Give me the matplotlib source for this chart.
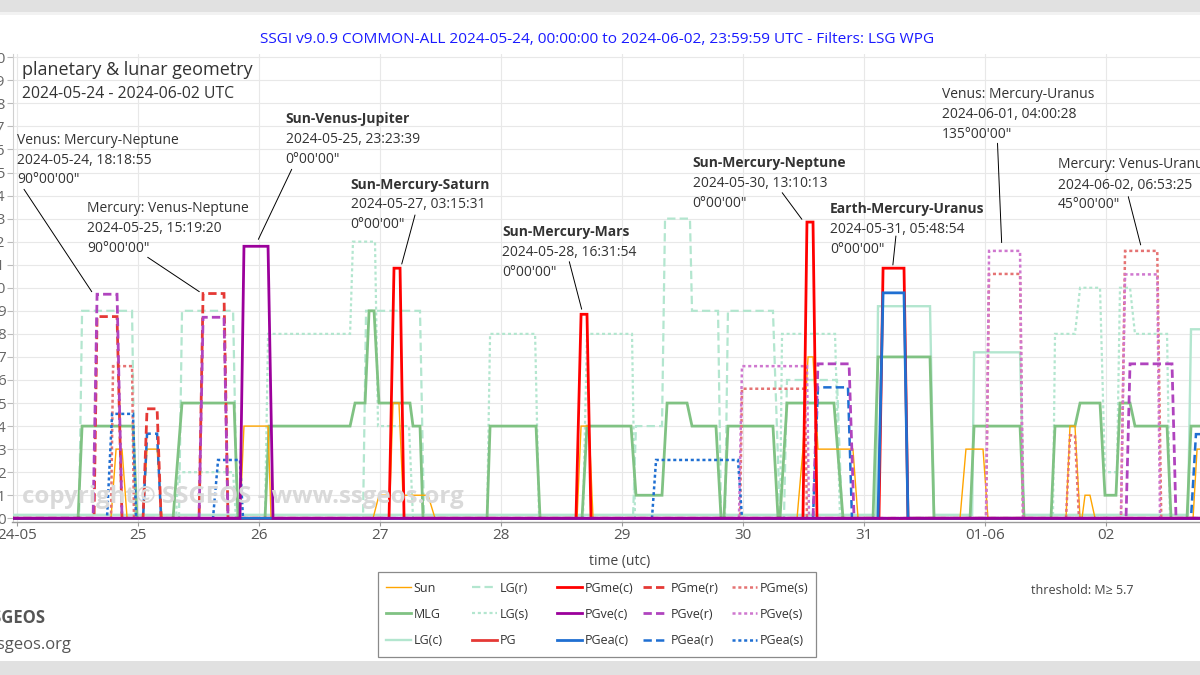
import matplotlib
matplotlib.use("Agg")
import matplotlib.pyplot as plt
from matplotlib.patches import Rectangle

plt.rcParams['font.family'] = ['Open Sans', 'Noto Sans', 'DejaVu Sans']
plt.rcParams['lines.scale_dashes'] = False

W, H = 1200, 675

# ---------------- data (time in days since 2024-05-24 00:00 UTC) ----------------
DAY_TICKS = [0, 1, 2, 3, 4, 5, 6, 7, 8, 9, 10]
DAY_LABELS = ["24-05", "25", "26", "27", "28", "29", "30", "31", "01-06", "02", "03"]
Y_TICKS = list(range(0, 21))

SUN_T = [-0.05, 0.779, 0.821, 0.870, 0.912, 1.044, 1.077, 1.160, 1.201, 1.845, 1.878, 2.077, 2.102,
         2.945, 2.994, 3.085, 3.110, 3.159, 3.192, 3.399, 3.457, 4.631, 4.664, 4.730, 4.763,
         6.449, 6.498, 6.540, 6.581, 6.622, 6.911, 6.953, 7.796, 7.845, 7.986, 8.027,
         8.672, 8.705, 8.746, 8.788, 8.804, 8.829, 8.870, 8.912, 9.722, 9.755, 10.1]
SUN_V = [0, 0, 3, 3, 0, 0, 3, 3, 0, 0, 4, 4, 0,
         0, 1, 1, 5, 5, 1, 1, 0, 0, 4, 4, 0,
         0, 3, 7, 7, 3, 3, 0, 0, 3, 3, 0,
         0, 4, 4, 0, 0, 1, 1, 0, 0, 3, 3]

MLG_T = [-0.05, 0.507, 0.540, 0.961, 0.994, 1.292, 1.366, 1.796, 1.829,
         2.052, 2.085, 2.755, 2.796, 2.879, 2.912, 2.953, 2.994, 3.250, 3.275, 3.333, 3.358,
         3.887, 3.912, 4.292, 4.325, 4.672, 4.713, 5.077, 5.118, 5.333, 5.375, 5.540, 5.581,
         5.779, 5.821, 5.845, 5.878, 6.250, 6.292, 6.308, 6.366, 6.754, 6.829,
         7.077, 7.118, 7.548, 7.581, 7.879, 7.912, 8.292, 8.325,
         8.548, 8.581, 8.746, 8.788, 8.953, 8.994, 9.085, 9.118, 9.201, 9.242, 9.507, 9.540,
         9.672, 9.705, 10.1]
MLG_V = [0, 0, 4, 4, 0, 0, 5, 5, 0,
         0, 4, 4, 5, 5, 9, 9, 5, 5, 4, 4, 0,
         0, 4, 4, 0, 0, 4, 4, 1, 1, 5, 5, 4,
         4, 0, 0, 4, 4, 0, 0, 5, 5, 0,
         0, 7, 7, 0, 0, 4, 4, 0,
         0, 4, 4, 5, 5, 1, 1, 5, 5, 4, 4, 0,
         0, 4, 4]

LGC_T = [-0.05, 7.102, 7.118, 7.548, 7.581, 7.896, 7.912, 8.292, 8.325, 9.680, 9.705, 10.1]
LGC_V = [0.15, 0.15, 9.2, 9.2, 0.15, 0.15, 7.2, 7.2, 0.15, 0.15, 8.2, 8.2]

LGR_T = [-0.05, 0.515, 0.540, 0.953, 0.978, 1.341, 1.366, 1.788, 1.821,
         2.862, 2.887, 3.333, 3.366,
         5.093, 5.118, 5.333, 5.358, 5.564, 5.581, 5.796, 5.821, 5.854, 5.878, 6.250, 6.308,
         6.341, 6.366, 6.779, 6.821, 10.1]
LGR_V = [0, 0, 9, 9, 0, 0, 9, 9, 0,
         0, 9, 9, 0,
         0, 4, 4, 13, 13, 9, 9, 0, 0, 9, 9, 0,
         0, 6, 6, 0, 0]

LGS_T = [-0.05, 1.317, 1.333, 1.788, 1.812,
         2.052, 2.077, 2.755, 2.779, 2.961, 2.986, 3.242, 3.275,
         3.887, 3.912, 4.284, 4.317, 4.680, 4.713, 5.085, 5.110,
         6.308, 6.325, 6.763, 6.804,
         8.564, 8.581, 8.746, 8.788, 8.953, 8.994, 9.093, 9.118, 9.201, 9.242, 9.507, 9.531, 10.1]
LGS_V = [0, 0, 2, 2, 0,
         0, 8, 8, 12, 12, 4, 4, 0,
         0, 8, 8, 0, 0, 8, 8, 0,
         0, 8, 8, 0,
         0, 8, 8, 10, 10, 2, 2, 10, 10, 8, 8, 0, 0]

PG_T = [-0.05, 10.1]
PG_V = [0, 0]

PGMEC_T = [-0.05, 3.077, 3.118, 3.168, 3.201, 4.622, 4.664, 4.713, 4.746,
           6.498, 6.531, 6.581, 6.614, 7.126, 7.160, 7.333, 7.366, 10.1]
PGMEC_V = [0, 0, 10.85, 10.85, 0, 0, 8.85, 8.85, 0,
           0, 12.85, 12.85, 0, 0, 10.85, 10.85, 0, 0]

PGMER_T = [-0.05, 0.639, 0.664, 0.829, 0.870, 1.044, 1.077, 1.160, 1.193,
           1.507, 1.540, 1.713, 1.746, 10.1]
PGMER_V = [0, 0, 8.75, 8.75, 0, 0, 4.75, 4.75, 0,
           0, 9.75, 9.75, 0, 0]

PGMES_T = [-0.05, 0.779, 0.796, 0.953, 0.969, 5.978, 5.994, 6.515, 6.531,
           8.011, 8.036, 8.292, 8.317, 8.672, 8.705, 8.746, 8.779,
           9.126, 9.160, 9.426, 9.459, 10.1]
PGMES_V = [0, 0, 6.6, 6.6, 0, 0, 5.62, 5.62, 0,
           0, 10.6, 10.6, 0, 0, 3.6, 3.6, 0,
           0, 11.6, 11.6, 0, 0]

PGVEC_T = [-0.05, 1.845, 1.878, 2.077, 2.118, 10.1]
PGVEC_V = [0, 0, 11.8, 11.8, 0, 0]

PGVER_T = [-0.05, 0.631, 0.664, 0.829, 0.870, 1.507, 1.540, 1.713, 1.746,
           6.581, 6.622, 6.879, 6.920, 9.168, 9.201, 9.548, 9.581, 10.1]
PGVER_V = [0, 0, 9.72, 9.72, 0, 0, 8.72, 8.72, 0,
           0, 6.7, 6.7, 0, 0, 6.7, 6.7, 0, 0]

PGVES_T = [-0.05, 5.969, 5.994, 6.531, 6.548, 8.011, 8.036, 8.292, 8.317,
           9.126, 9.160, 9.426, 9.449, 10.1]
PGVES_V = [0, 0, 6.6, 6.6, 0, 0, 11.6, 11.6, 0,
           0, 10.58, 10.58, 0, 0]

PGEAC_T = [-0.05, 7.118, 7.160, 7.333, 7.366, 10.1]
PGEAC_V = [0, 0, 9.78, 9.78, 0, 0]

PGEAR_T = [-0.05, 1.044, 1.077, 1.160, 1.193, 6.581, 6.622, 6.870, 6.903, 9.705, 9.746, 10.1]
PGEAR_V = [0, 0, 3.67, 3.67, 0, 0, 5.68, 5.68, 0, 0, 3.65, 3.65]

PGEAS_T = [-0.05, 0.746, 0.788, 0.961, 0.986, 1.622, 1.664, 1.845, 1.870,
           5.250, 5.284, 5.961, 5.994, 10.1]
PGEAS_V = [0, 0, 4.53, 4.53, 0, 0, 2.53, 2.53, 0,
           0, 2.53, 2.53, 0, 0]

# annotation texts
ANN_TITLES = ["Venus: Mercury-Neptune", "Mercury: Venus-Neptune", "Sun-Venus-Jupiter",
              "Sun-Mercury-Saturn", "Sun-Mercury-Mars", "Sun-Mercury-Neptune",
              "Earth-Mercury-Uranus", "Venus: Mercury-Uranus", "Mercury: Venus-Uranus"]
ANN_TIMES = ["2024-05-24, 18:18:55", "2024-05-25, 15:19:20", "2024-05-25, 23:23:39",
             "2024-05-27, 03:15:31", "2024-05-28, 16:31:54", "2024-05-30, 13:10:13",
             "2024-05-31, 05:48:54", "2024-06-01, 04:00:28", "2024-06-02, 06:53:25"]
ANN_ANGLES = ["90°00'00\"", "90°00'00\"", "0°00'00\"", "0°00'00\"", "0°00'00\"",
              "0°00'00\"", "0°00'00\"", "135°00'00\"", "45°00'00\""]
ANN_BOLD = [False, False, True, True, True, True, True, False, False]
# tip of connector in data units (day, value)
ANN_TIP_D = [0.620, 1.509, 1.997, 3.182, 4.669, 6.489, 7.241, 8.140, 9.289]
ANN_TIP_V = [9.83, 9.83, 12.10, 11.03, 9.07, 12.97, 10.99, 11.96, 11.86]

# ---------------- layout helpers ----------------
def fx(x):
    return x / W

def fy(y):
    return 1 - y / H

fig = plt.figure(figsize=(12, 6.75), dpi=100)
fig.patch.set_facecolor('white')

# page bands
fig.patches.append(Rectangle((0, fy(12)), 1, 12 / H, transform=fig.transFigure,
                             facecolor='#e1e1e1', edgecolor='none', zorder=0))
fig.patches.append(Rectangle((0, fy(15)), 1, 3 / H, transform=fig.transFigure,
                             facecolor='#f2f2f2', edgecolor='none', zorder=0))
fig.patches.append(Rectangle((0, 0), 1, 14 / H, transform=fig.transFigure,
                             facecolor='#e1e1e1', edgecolor='none', zorder=0))

ax_left, ax_right = 12.5, 1226.7
ax_top, ax_bot = 53.8, 522.3
ax = fig.add_axes([fx(ax_left), fy(ax_bot), (ax_right - ax_left) / W, (ax_bot - ax_top) / H])
ax.set_xlim(-0.035, 10.0)
ax.set_ylim(-0.174, 20.15)

ax.set_xticks(DAY_TICKS)
ax.set_xticklabels(DAY_LABELS)
ax.set_yticks(Y_TICKS)
ax.set_yticklabels([str(v) for v in Y_TICKS])
ax.grid(True, color='#e8e8e8', lw=0.8, zorder=0)
ax.set_axisbelow(True)
for s in ['top', 'right']:
    ax.spines[s].set_visible(False)
ax.spines['left'].set_color('#d0d0d0')
ax.spines['bottom'].set_color('#9a9a9a')
ax.spines['bottom'].set_linewidth(1.0)
ax.tick_params(axis='y', length=4, pad=1, colors='#bbbbbb', labelcolor='#666666', labelsize=11)
ax.tick_params(axis='x', length=3, pad=1, colors='#9a9a9a', labelcolor='#555555', labelsize=11)

ax.set_xlabel('time (utc)', fontsize=10, color='#444444', labelpad=8)

# watermark
fig.text(fx(22), fy(497), 'copyright© SSGEOS - www.ssgeos.org', fontsize=17.3, fontweight='bold',
         color='#d9d9d9', va='center', ha='left', zorder=1)

# series
DASH = (0, (6, 3))
DOT = (0, (2.2, 2.0))
LGCOL = '#b3e6cf'
series = [
    ('Sun', SUN_T, SUN_V, '#ffa500', 1.0, '-', 6),
    ('MLG', MLG_T, MLG_V, '#80c283', 2.0, '-', 5),
    ('LG(c)', LGC_T, LGC_V, LGCOL, 1.7, '-', 3),
    ('LG(r)', LGR_T, LGR_V, LGCOL, 1.6, DASH, 3),
    ('LG(s)', LGS_T, LGS_V, LGCOL, 1.6, DOT, 3),
    ('PG', PG_T, PG_V, '#e53935', 2.0, '-', 6.5),
    ('PGme(c)', PGMEC_T, PGMEC_V, '#ff0000', 2.0, '-', 8),
    ('PGve(c)', PGVEC_T, PGVEC_V, '#9b009b', 2.0, '-', 9),
    ('PGea(c)', PGEAC_T, PGEAC_V, '#1f6fd2', 2.0, '-', 8.5),
    ('PGme(r)', PGMER_T, PGMER_V, '#e53935', 2.0, DASH, 7.5),
    ('PGve(r)', PGVER_T, PGVER_V, '#b044be', 2.0, DASH, 7.6),
    ('PGea(r)', PGEAR_T, PGEAR_V, '#1f6fd2', 1.8, DASH, 7.4),
    ('PGme(s)', PGMES_T, PGMES_V, '#e57373', 1.8, DOT, 7),
    ('PGve(s)', PGVES_T, PGVES_V, '#cf77cf', 1.8, DOT, 7.1),
    ('PGea(s)', PGEAS_T, PGEAS_V, '#1f6fd2', 1.8, DOT, 7),
]
handles = []
for name, t, v, col, lw, ls, z in series:
    ln, = ax.plot(t, v, color=col, lw=lw, linestyle=ls, label=name, zorder=z,
                  solid_joinstyle='miter', dash_joinstyle='miter')
    handles.append(ln)

# annotations
ANN_X = [17, 87.3, 285.7, 350.7, 502.3, 692.7, 829.8, 941.7, 1057.7]
ANN_Y = [140, 208.3, 119.3, 185, 232.3, 163.3, 209.3, 94, 165]
LINE_X0 = [24, 147.7, 291.7, 415, 569.3, 782.2, 895.9, 997.5, 1128.3]
LINE_Y0 = [189.3, 257.3, 169.3, 215, 261.7, 192.7, 236, 143.3, 196.7]
for i in range(len(ANN_TITLES)):
    fig.text(fx(ANN_X[i]), fy(ANN_Y[i]), ANN_TITLES[i], fontsize=10, color='#333333',
             fontweight='bold' if ANN_BOLD[i] else 'normal', va='center', ha='left', zorder=20)
    fig.text(fx(ANN_X[i]), fy(ANN_Y[i] + 20), ANN_TIMES[i], fontsize=10, color='#333333',
             va='center', ha='left', zorder=20)
    fig.text(fx(ANN_X[i]), fy(ANN_Y[i] + 40), ANN_ANGLES[i], fontsize=10, color='#333333',
             va='center', ha='left', zorder=20)
    ax.annotate('', xy=(ANN_TIP_D[i], ANN_TIP_V[i]), xycoords='data',
                xytext=(fx(LINE_X0[i]), fy(LINE_Y0[i])), textcoords='figure fraction',
                arrowprops=dict(arrowstyle='-', color='black', lw=0.7, shrinkA=0, shrinkB=0),
                zorder=20, annotation_clip=False)

# chart texts
fig.text(fx(597), fy(39.3), 'SSGI v9.0.9 COMMON-ALL 2024-05-24, 00:00:00 to 2024-06-02, 23:59:59 UTC - Filters: LSG WPG',
         fontsize=11.1, color='#1a1aff', ha='center', va='center')
fig.text(fx(22.3), fy(70), 'planetary & lunar geometry', fontsize=13, color='#333333', ha='left', va='center')
fig.text(fx(22.3), fy(94), '2024-05-24 - 2024-06-02 UTC', fontsize=11.3, color='#333333', ha='left', va='center')
fig.text(fx(1030.7), fy(590.7), 'threshold: M≥ 5.7', fontsize=9, color='#444444', ha='left', va='center')
fig.text(fx(45.5), fy(618.3), 'SSGEOS', fontsize=12, fontweight='bold', color='#555555', ha='right', va='center')
fig.text(fx(71.5), fy(645), 'www.ssgeos.org', fontsize=12, color='#555555', ha='right', va='center')

# legend: five columns at fixed positions inside one frame
fig.patches.append(Rectangle((fx(378.3), fy(656.7)), (815.7 - 378.3) / W, (656.7 - 571.7) / H,
                             transform=fig.transFigure, facecolor='white', edgecolor='#8a8a8a',
                             lw=0.9, zorder=1))
COL_X = [386, 471.7, 557.3, 643.3, 731.7]
for c in range(5):
    hs = handles[c * 3:(c + 1) * 3]
    leg = fig.legend(hs, [h.get_label() for h in hs], loc='upper left',
                     bbox_to_anchor=(fx(COL_X[c]), fy(581.5)), bbox_transform=fig.transFigure,
                     frameon=False, fontsize=9, handlelength=25 / 12.5, handletextpad=0.22,
                     labelspacing=1.06, borderpad=0, borderaxespad=0, labelcolor='#333333')
    leg.set_zorder(5)

fig.savefig('out.png', dpi=100)
